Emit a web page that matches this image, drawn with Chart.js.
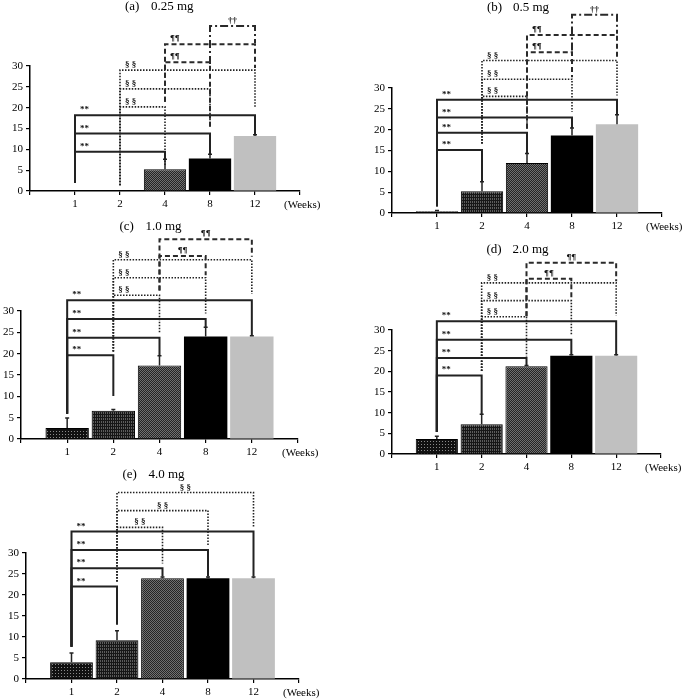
<!DOCTYPE html>
<html>
<head>
<meta charset="utf-8">
<script src="https://cdn.jsdelivr.net/npm/chart.js@4.4.1/dist/chart.umd.min.js"></script>
<style>
  body { margin: 0; background: #fff; width: 685px; height: 699px; position: relative; overflow: hidden }
  canvas { position: absolute }
</style>
</head>
<body>
<script>
var weeks = ['1', '2', '4', '8', '12']

// mean and SD for each dose
var meanA = [0, 0, 5.2, 7.8, 13.2]
var sdA = [0, 0, 2.4, 1.0, 0.3]
var meanB = [0.4, 5.2, 12.0, 18.6, 21.3]
var sdB = [0.2, 2.3, 2.3, 1.8, 2.3]
var meanC = [2.6, 6.6, 17.2, 24.0, 24.0]
var sdC = [2.3, 0.3, 2.3, 2.2, 0.2]
var meanD = [3.6, 7.2, 21.2, 23.8, 23.8]
var sdD = [0.7, 2.4, 0.2, 0.2, 0.2]
var meanE = [4.0, 9.2, 24.0, 24.0, 24.0]
var sdE = [2.2, 2.3, 0.3, 0.3, 0.3]

// significance brackets: from, to, level, left end, right end, mark, line, label place
var sigA = [
  [0, 2, 9.4, 2.0, 7.6, '**', 's', 'l'],
  [0, 3, 13.8, 2.0, 8.8, '**', 's', 'l'],
  [0, 4, 18.2, 2.0, 13.5, '**', 's', 'l'],
  [1, 2, 20.2, 1.4, 6.0, '§ §', 'o', 'l'],
  [1, 3, 24.5, 1.4, 15.2, '§ §', 'o', 'l'],
  [1, 4, 29.0, 1.4, 20.2, '§ §', 'o', 'l'],
  [2, 3, 30.9, 21.4, 15.2, '¶¶', 'd', 'l'],
  [2, 4, 35.2, 21.4, 29.5, '¶¶', 'd', 'l'],
  [3, 4, 39.6, 30.5, 35.5, '††', 'dd', 'c']
]
var sigB = [
  [0, 1, 15.1, 1.6, 7.6, '**', 's', 'l'],
  [0, 2, 19.25, 1.6, 14.3, '**', 's', 'l'],
  [0, 3, 22.9, 1.6, 20.4, '**', 's', 'l'],
  [0, 4, 27.2, 1.6, 23.6, '**', 's', 'l'],
  [1, 2, 28.0, 16.7, 20.3, '§ §', 'o', 'l'],
  [1, 3, 32.1, 16.7, 24.3, '§ §', 'o', 'l'],
  [1, 4, 36.6, 16.7, 28.2, '§ §', 'o', 'l'],
  [2, 3, 38.6, 20.3, 32.6, '¶¶', 'd', 'l'],
  [2, 4, 42.7, 20.3, 37.0, '¶¶', 'd', 'l'],
  [3, 4, 47.6, 39.0, 43.0, '††', 'dd', 'c']
]
var sigC = [
  [0, 1, 19.6, 5.9, 10.1, '**', 's', 'l'],
  [0, 2, 23.75, 5.9, 19.6, '**', 's', 'l'],
  [0, 3, 28.1, 5.9, 26.25, '**', 's', 'l'],
  [0, 4, 32.5, 5.9, 24.3, '**', 's', 'l'],
  [1, 2, 33.7, 20.5, 24.7, '§ §', 'o', 'l'],
  [1, 3, 37.8, 20.5, 29.4, '§ §', 'o', 'l'],
  [1, 4, 42.0, 20.5, 34.0, '§ §', 'o', 'l'],
  [2, 3, 42.9, 34.8, 38.4, '¶¶', 'd', 'c'],
  [2, 4, 46.8, 34.8, 42.7, '¶¶', 'd', 'c']
]
var sigD = [
  [0, 1, 19.0, 5.35, 9.6, '**', 's', 'l'],
  [0, 2, 23.2, 5.35, 21.4, '**', 's', 'l'],
  [0, 3, 27.65, 5.35, 24.0, '**', 's', 'l'],
  [0, 4, 32.1, 5.35, 24.0, '**', 's', 'l'],
  [1, 2, 33.2, 20.1, 23.6, '§ §', 'o', 'l'],
  [1, 3, 37.1, 20.1, 28.9, '§ §', 'o', 'l'],
  [1, 4, 41.4, 20.1, 33.5, '§ §', 'o', 'l'],
  [2, 3, 42.4, 33.3, 37.8, '¶¶', 'd', 'c'],
  [2, 4, 46.3, 33.3, 41.8, '¶¶', 'd', 'c']
]
var sigE = [
  [0, 1, 22.0, 7.7, 12.9, '**', 's', 'l'],
  [0, 2, 26.35, 7.7, 24.4, '**', 's', 'l'],
  [0, 3, 30.7, 7.7, 24.4, '**', 's', 'l'],
  [0, 4, 35.1, 7.7, 24.4, '**', 's', 'l'],
  [1, 2, 36.1, 23.2, 27.5, '§ §', 'o', 'c'],
  [1, 3, 40.1, 23.2, 31.9, '§ §', 'o', 'c'],
  [1, 4, 44.4, 23.2, 36.3, '§ §', 'o', 'c']
]

// page placement of each plot area
var panels = [
  { tag: '(a)', dose: '0.25 mg', mean: meanA, sd: sdA, sig: sigA, x0: 30, x1: 300, y0: 191, y30: 66, ty: 7 },
  { tag: '(b)', dose: '0.5 mg', mean: meanB, sd: sdB, sig: sigB, x0: 392, x1: 662, y0: 213, y30: 88, ty: 8 },
  { tag: '(c)', dose: '1.0 mg', mean: meanC, sd: sdC, sig: sigC, x0: 21, x1: 298, y0: 439, y30: 311, ty: 227 },
  { tag: '(d)', dose: '2.0 mg', mean: meanD, sd: sdD, sig: sigD, x0: 392, x1: 661, y0: 454, y30: 330, ty: 250 },
  { tag: '(e)', dose: '4.0 mg', mean: meanE, sd: sdE, sig: sigE, x0: 26, x1: 299, y0: 679, y30: 553, ty: 475 }
]

var SERIF = '"Liberation Serif", "Times New Roman", serif'
var TOP = 100, LEFT = 32, RIGHT = 45, BOTTOM = 30

function pattern (bg, fg, w, h, dots) {
  var c = document.createElement('canvas')
  c.width = w
  c.height = h
  var g = c.getContext('2d')
  g.fillStyle = bg
  g.fillRect(0, 0, w, h)
  g.fillStyle = fg
  dots.forEach(function (d) { g.fillRect(d[0], d[1], 1, 1) })
  return g.createPattern(c, 'repeat')
}

var fills = [
  pattern('#111', '#8a8a8a', 3, 3, [[1, 1]]),
  pattern('#161616', '#5c5c5c', 2, 3, [[0, 0], [0, 1]]),
  pattern('#252525', '#707070', 2, 2, [[0, 0], [1, 1]]),
  '#000',
  '#c0c0c0'
]

var lines = {
  s: { dash: [], width: 2, color: '#222' },
  o: { dash: [1.5, 1.5], width: 1.6, color: '#222' },
  d: { dash: [5, 3], width: 2, color: '#2a2a2a' },
  dd: { dash: [8, 3, 2, 3], width: 2, color: '#2a2a2a' }
}

var extras = {
  id: 'extras',
  afterDatasetsDraw: function (chart, args, opts) {
    var p = opts.panel
    var ctx = chart.ctx
    var xs = chart.scales.x, ys = chart.scales.y
    ctx.save()

    // error bars
    ctx.strokeStyle = '#222'
    ctx.lineWidth = 1.5
    p.mean.forEach(function (m, i) {
      if (!p.sd[i]) return
      var x = xs.getPixelForValue(i + 1)
      var yt = ys.getPixelForValue(m + p.sd[i])
      ctx.beginPath()
      ctx.moveTo(x, ys.getPixelForValue(m))
      ctx.lineTo(x, yt)
      ctx.moveTo(x - 2, yt)
      ctx.lineTo(x + 2, yt)
      ctx.stroke()
    })

    // brackets
    p.sig.forEach(function (s) {
      var st = lines[s[6]]
      var xa = xs.getPixelForValue(s[0] + 1)
      var xb = xs.getPixelForValue(s[1] + 1)
      var yl = ys.getPixelForValue(s[2])
      ctx.setLineDash(st.dash)
      ctx.lineWidth = st.width
      ctx.strokeStyle = st.color
      ctx.beginPath()
      ctx.moveTo(xa, ys.getPixelForValue(s[3]))
      ctx.lineTo(xa, yl)
      ctx.lineTo(xb, yl)
      ctx.lineTo(xb, ys.getPixelForValue(s[4]))
      ctx.stroke()
      ctx.setLineDash([])
      ctx.fillStyle = '#111'
      ctx.font = 'bold 9px ' + SERIF
      ctx.textBaseline = 'alphabetic'
      if (s[7] === 'c') {
        ctx.textAlign = 'center'
        ctx.fillText(s[5], (xa + xb) / 2, yl - 3)
      } else {
        ctx.textAlign = 'left'
        ctx.fillText(s[5], xa + 5, yl - 3)
      }
    })

    // panel title and axis unit
    var cx = (chart.chartArea.left + chart.chartArea.right) / 2 - 40
    var top = p.y30 - TOP
    ctx.fillStyle = '#000'
    ctx.textAlign = 'left'
    ctx.textBaseline = 'middle'
    ctx.font = '13px ' + SERIF
    ctx.fillText(p.tag, cx, p.ty - top)
    ctx.fillText(p.dose, cx + 26, p.ty - top)
    ctx.font = '11px ' + SERIF
    ctx.fillText('(Weeks)', chart.chartArea.right - 16, chart.chartArea.bottom + 14)
    ctx.restore()
  }
}

panels.forEach(function (p) {
  var cv = document.createElement('canvas')
  var w = (p.x1 - p.x0) + LEFT + RIGHT
  var h = (p.y0 - p.y30) + TOP + BOTTOM
  cv.width = w
  cv.height = h
  cv.style.width = w + 'px'
  cv.style.height = h + 'px'
  cv.style.left = (p.x0 - LEFT) + 'px'
  cv.style.top = (p.y30 - TOP) + 'px'
  document.body.appendChild(cv)

  new Chart(cv, {
    type: 'bar',
    data: {
      datasets: [{
        data: p.mean.map(function (m, i) { return { x: i + 1, y: m } }),
        backgroundColor: fills,
        borderColor: '#000',
        borderWidth: [1, 1, 1, 0, 0],
        borderSkipped: 'bottom',
        barPercentage: 0.94,
        categoryPercentage: 1
      }]
    },
    options: {
      responsive: false,
      animation: false,
      devicePixelRatio: 1,
      layout: { padding: { top: TOP, right: RIGHT, left: 0, bottom: 0 } },
      plugins: {
        legend: { display: false },
        tooltip: { enabled: false },
        extras: { panel: p }
      },
      scales: {
        x: {
          type: 'linear',
          min: 0,
          max: 6,
          offset: false,
          afterFit: function (s) { s.height = BOTTOM },
          grid: { offset: false, drawOnChartArea: false, tickLength: 4, color: '#000', lineWidth: 1.2 },
          border: { color: '#000', width: 1.5 },
          ticks: {
            stepSize: 1,
            autoSkip: false,
            maxRotation: 0,
            padding: 3,
            color: '#000',
            font: { family: SERIF, size: 11 },
            callback: function (v) { return weeks[v - 1] || '' }
          }
        },
        y: {
          min: 0,
          max: 30,
          afterFit: function (s) { s.width = LEFT },
          grid: { drawOnChartArea: false, tickLength: 4, color: '#000', lineWidth: 1.2 },
          border: { color: '#000', width: 1.5 },
          ticks: {
            stepSize: 5,
            padding: 3,
            color: '#000',
            font: { family: SERIF, size: 11 }
          }
        }
      }
    },
    plugins: [extras]
  })
})
</script>
</body>
</html>
